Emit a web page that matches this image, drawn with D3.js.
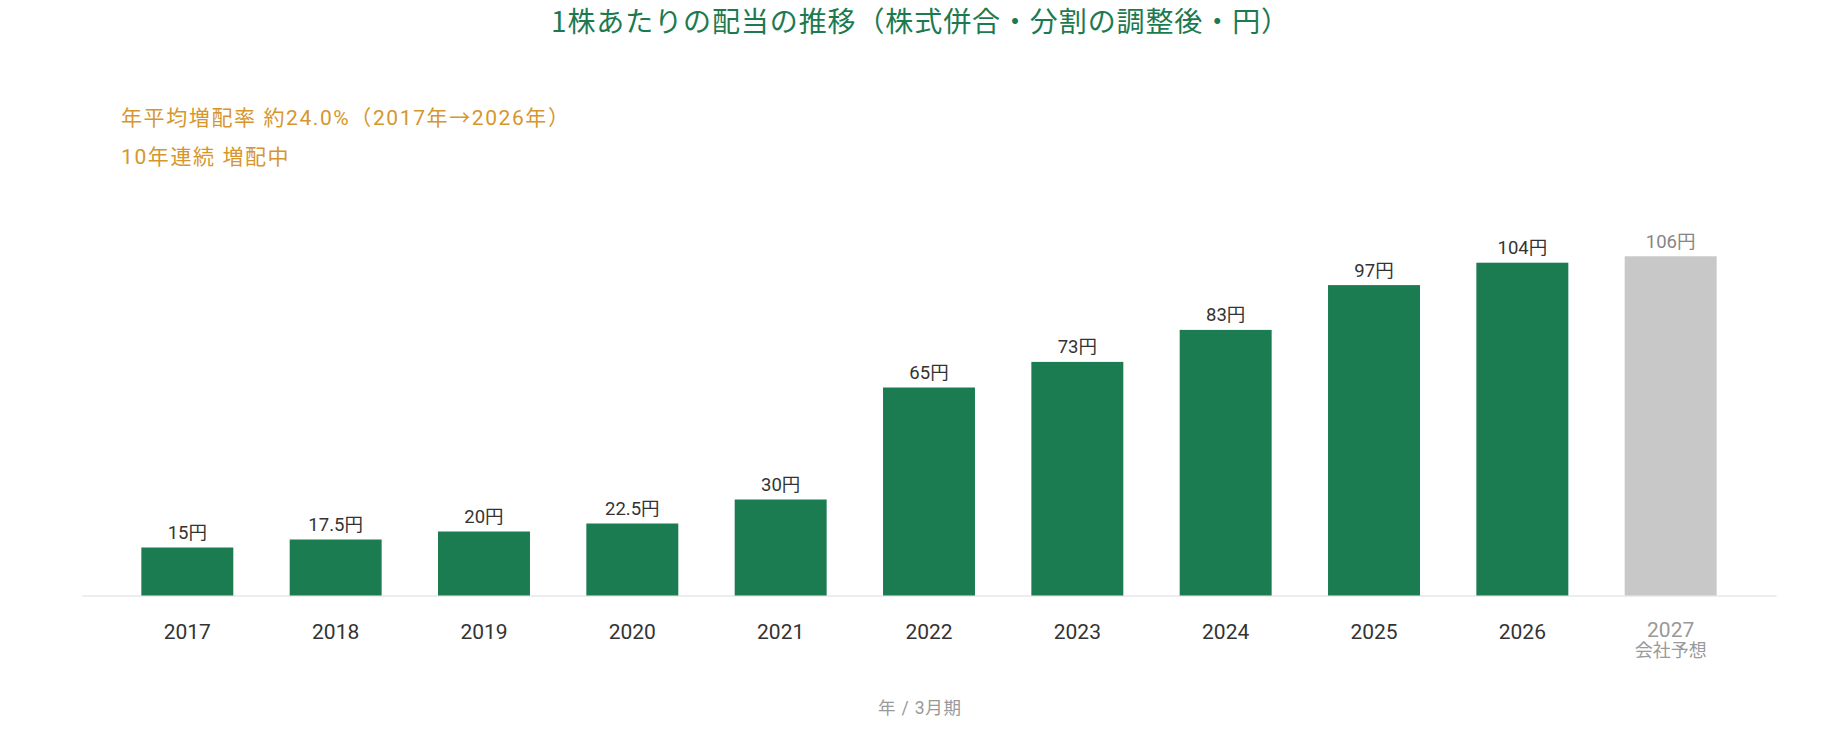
<!DOCTYPE html>
<html>
<head>
<meta charset="utf-8">
<script src="https://cdn.jsdelivr.net/npm/d3@7"></script>
<style>
  html, body { margin: 0; padding: 0; background: #fff; }
  svg { display: block; font-family: Roboto, "Noto Sans CJK JP", sans-serif; }
</style>
</head>
<body>
<svg id="chart" width="1840" height="736"></svg>
<script>
const years = ["2017","2018","2019","2020","2021","2022","2023","2024","2025","2026","2027"];
const dividends = [15, 17.5, 20, 22.5, 30, 65, 73, 83, 97, 104, 106];
const valueLabels = ["15円","17.5円","20円","22.5円","30円","65円","73円","83円","97円","104円","106円"];
const forecast = [false,false,false,false,false,false,false,false,false,false,true];
const forecastNote = "会社予想";
const titleText = "1株あたりの配当の推移（株式併合・分割の調整後・円）";
const noteLines = ["年平均増配率 約24.0%（2017年→2026年）", "10年連続 増配中"];
const axisTitle = "年 / 3月期";

const svg = d3.select("#chart");
const W = 1840;
const baseY = 595.5;

const x = d3.scaleBand().domain(years).range([82, 1776]).paddingInner(0.38).paddingOuter(0.4);
const y = d3.scaleLinear().domain([0, 120]).range([baseY, baseY - 384]);

const green = "#1b7c52";
const grey = "#c8c8c8";

// title
svg.append("text")
  .attr("x", W / 2 + 0.5).attr("y", 32)
  .attr("text-anchor", "middle")
  .attr("fill", "#1d7a50")
  .style("font-family", "'Noto Sans CJK JP', sans-serif")
  .style("font-size", "28px")
  .style("letter-spacing", "0.9px")
  .text(titleText);

// notes
svg.selectAll("text.note").data(noteLines).enter().append("text")
  .attr("class", "note")
  .attr("x", 121).attr("y", (d, i) => 124.5 + i * 39.5)
  .attr("fill", "#d6962c")
  .style("font-size", "21px")
  .style("letter-spacing", "1.6px")
  .text(d => d);

// axis line
const axis = svg.append("g").attr("transform", `translate(0,${baseY})`)
  .call(d3.axisBottom(x).tickSize(0).tickFormat(""));
axis.select(".domain").attr("stroke", "#dcdcdc").attr("stroke-width", 1.2);

// bars
svg.selectAll("rect.bar").data(years).enter().append("rect")
  .attr("class", "bar")
  .attr("x", d => x(d))
  .attr("width", x.bandwidth())
  .attr("y", (d, i) => y(dividends[i]))
  .attr("height", (d, i) => y(0) - y(dividends[i]))
  .attr("fill", (d, i) => forecast[i] ? grey : green);

// value labels
svg.selectAll("text.val").data(years).enter().append("text")
  .attr("class", "val")
  .attr("x", d => x(d) + x.bandwidth() / 2)
  .attr("y", (d, i) => y(dividends[i]) - 8.5)
  .attr("text-anchor", "middle")
  .attr("fill", (d, i) => forecast[i] ? "#858585" : "#333")
  .style("font-size", "18.5px")
  .text((d, i) => valueLabels[i]);

// tick labels
svg.selectAll("text.tick").data(years).enter().append("text")
  .attr("class", "tick")
  .attr("x", d => x(d) + x.bandwidth() / 2)
  .attr("y", (d, i) => forecast[i] ? 637 : 639)
  .attr("text-anchor", "middle")
  .attr("fill", (d, i) => forecast[i] ? "#999" : "#333")
  .style("font-size", "21px")
  .text(d => d);

svg.selectAll("text.fnote").data(years.filter((d, i) => forecast[i])).enter().append("text")
  .attr("class", "fnote")
  .attr("x", d => x(d) + x.bandwidth() / 2)
  .attr("y", 657)
  .attr("text-anchor", "middle")
  .attr("fill", "#999")
  .style("font-size", "18px")
  .text(forecastNote);

// axis title
svg.append("text")
  .attr("x", W / 2).attr("y", 714)
  .attr("text-anchor", "middle")
  .attr("fill", "#999")
  .style("font-size", "17.5px")
  .style("letter-spacing", "0.8px")
  .text(axisTitle);
</script>
</body>
</html>
